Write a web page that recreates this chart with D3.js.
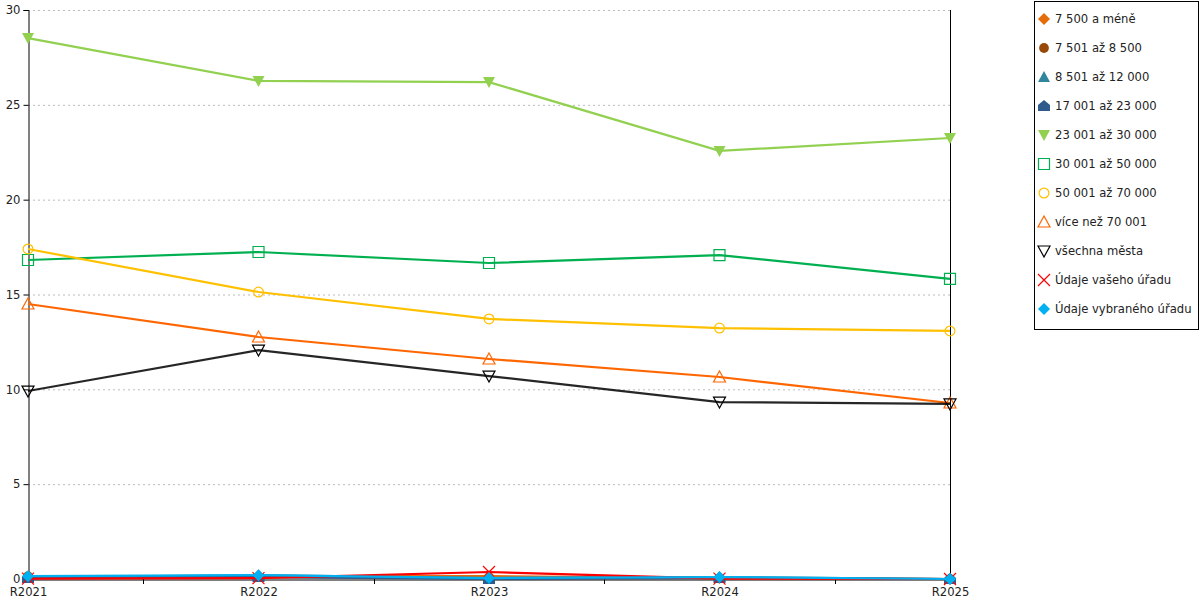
<!DOCTYPE html>
<html><head><meta charset="utf-8">
<script src="https://cdn.jsdelivr.net/npm/d3@7"></script>
<style>body{margin:0;background:#fff}svg{font-family:"DejaVu Sans",Verdana,sans-serif}</style>
</head><body><svg id="c" width="1200" height="600"></svg>
<script>
const categories = ["R2021","R2022","R2023","R2024","R2025"];
const yTicks = [0,5,10,15,20,25,30];
const seriesNames = ["7 500 a méně","7 501 až 8 500","8 501 až 12 000","17 001 až 23 000","23 001 až 30 000","30 001 až 50 000","50 001 až 70 000","více než 70 001","všechna města","Údaje vašeho úřadu","Údaje vybraného úřadu"];
const s7500 = [0.10,0.15,0.15,0.05,0];
const s8500 = [0.15,0.10,0.05,0.05,0];
const s12000 = [0.10,0.20,0.05,0.10,0];
const s23000 = [0.05,0.10,0.00,0.05,0];
const s30000 = [28.52,26.26,26.20,22.57,23.25];
const s50000 = [16.82,17.24,16.66,17.08,15.82];
const s70000 = [17.40,15.13,13.71,13.23,13.08];
const sOver70 = [14.50,12.76,11.60,10.65,9.28];
const sAll = [9.91,12.07,10.70,9.33,9.23];
const sYour = [0.02,0.05,0.37,0.02,0];
const sSelected = [0.15,0.20,0.05,0.10,0];
const seriesValues = [s7500,s8500,s12000,s23000,s30000,s50000,s70000,sOver70,sAll,sYour,sSelected];

const colors = ["#E46C0A","#984807","#31859C","#2F5A8C","#92D050","#00B050","#FFC000","#FF6600","#000000","#FF0000","#00B0F0"];
const shapes = ["diamond","circle","triUp","house","triDown","square","circle","triUp","triDown","cross","diamond"];
const filled = [true,true,true,true,true,false,false,false,false,false,true];

const svg = d3.select("#c");
const L=28,R=950,T=10,B=579;
const FS = 11.6;
const x = d3.scalePoint().domain(categories).range([L,R]);
const y = d3.scaleLinear().domain([0,30]).range([B,T]);

// gridlines
svg.append("g").selectAll("line").data(yTicks.filter(d=>d>0)).join("line")
  .attr("x1",L).attr("x2",R).attr("y1",d=>y(d)+0.5).attr("y2",d=>y(d)+0.5)
  .attr("stroke","#bbb").attr("stroke-dasharray","2,3").attr("stroke-width",1);

// y axis
const ya = svg.append("g").attr("transform",`translate(${L+0.5},0)`)
  .call(d3.axisLeft(y).tickValues(yTicks).tickSize(5).tickPadding(3));
ya.select(".domain").attr("stroke","#000");
ya.selectAll("text").attr("font-size",FS).attr("fill","#222").attr("font-family","DejaVu Sans");
// right line
svg.append("line").attr("x1",R+0.5).attr("x2",R+0.5).attr("y1",T).attr("y2",B).attr("stroke","#000");
// x axis
const xa = svg.append("g").attr("transform",`translate(0,${B+0.5})`)
  .call(d3.axisBottom(x).tickSize(0).tickPadding(8));
xa.select(".domain").attr("stroke","#000");
xa.selectAll("text").attr("font-size",FS).attr("fill","#222").attr("font-family","DejaVu Sans");
// minor ticks between categories
const mids = categories.slice(0,-1).map((c,i)=>(x(c)+x(categories[i+1]))/2);
svg.append("g").selectAll("line").data(mids).join("line")
  .attr("x1",d=>Math.round(d)+0.5).attr("x2",d=>Math.round(d)+0.5).attr("y1",B).attr("y2",B+5).attr("stroke","#000");

function markerPath(shape){
  switch(shape){
    case "diamond": return "M0,-6L6,0L0,6L-6,0Z";
    case "circle": return d3.symbol(d3.symbolCircle,75)();
    case "triUp": return "M0,-6L6,5L-6,5Z";
    case "triDown": return "M-6,-5L6,-5L0,6Z";
    case "square": return "M-5.5,-5.5H5.5V5.5H-5.5Z";
    case "house": return "M0,-6L6,-1L6,5L-6,5L-6,-1Z";
    case "cross": return "M-6,-6L6,6M6,-6L-6,6";
  }
}

const line = d3.line().x((d,i)=>x(categories[i])).y(d=>y(d));
const gS = svg.append("g");
seriesValues.forEach((vals,k)=>{
  const g = gS.append("g");
  g.append("path").attr("d",line(vals)).attr("fill","none").attr("stroke",colors[k]).attr("stroke-width",2.2).attr("stroke-opacity",k===8?0.85:1);
  g.selectAll("path.m").data(vals).join("path").attr("class","m")
    .attr("transform",(d,i)=>`translate(${x(categories[i])},${y(d)})`)
    .attr("d",markerPath(shapes[k]))
    .attr("fill",filled[k]?colors[k]:"none")
    .attr("stroke",colors[k]).attr("stroke-width",filled[k]?0:1.2);
});

// legend
const lg = svg.append("g");
lg.append("rect").attr("x",1034.5).attr("y",1.5).attr("width",164).attr("height",328).attr("fill","#fff").attr("stroke","#000");
seriesNames.forEach((n,k)=>{
  const yy = 19 + k*29;
  lg.append("path").attr("transform",`translate(1044,${yy})`).attr("d",markerPath(shapes[k]))
    .attr("fill",filled[k]?colors[k]:"none").attr("stroke",colors[k]).attr("stroke-width",filled[k]?0:1.2);
  lg.append("text").attr("x",1055).attr("y",yy).attr("dy","0.35em").attr("font-size",FS).attr("fill","#222").text(n);
});
</script></body></html>
